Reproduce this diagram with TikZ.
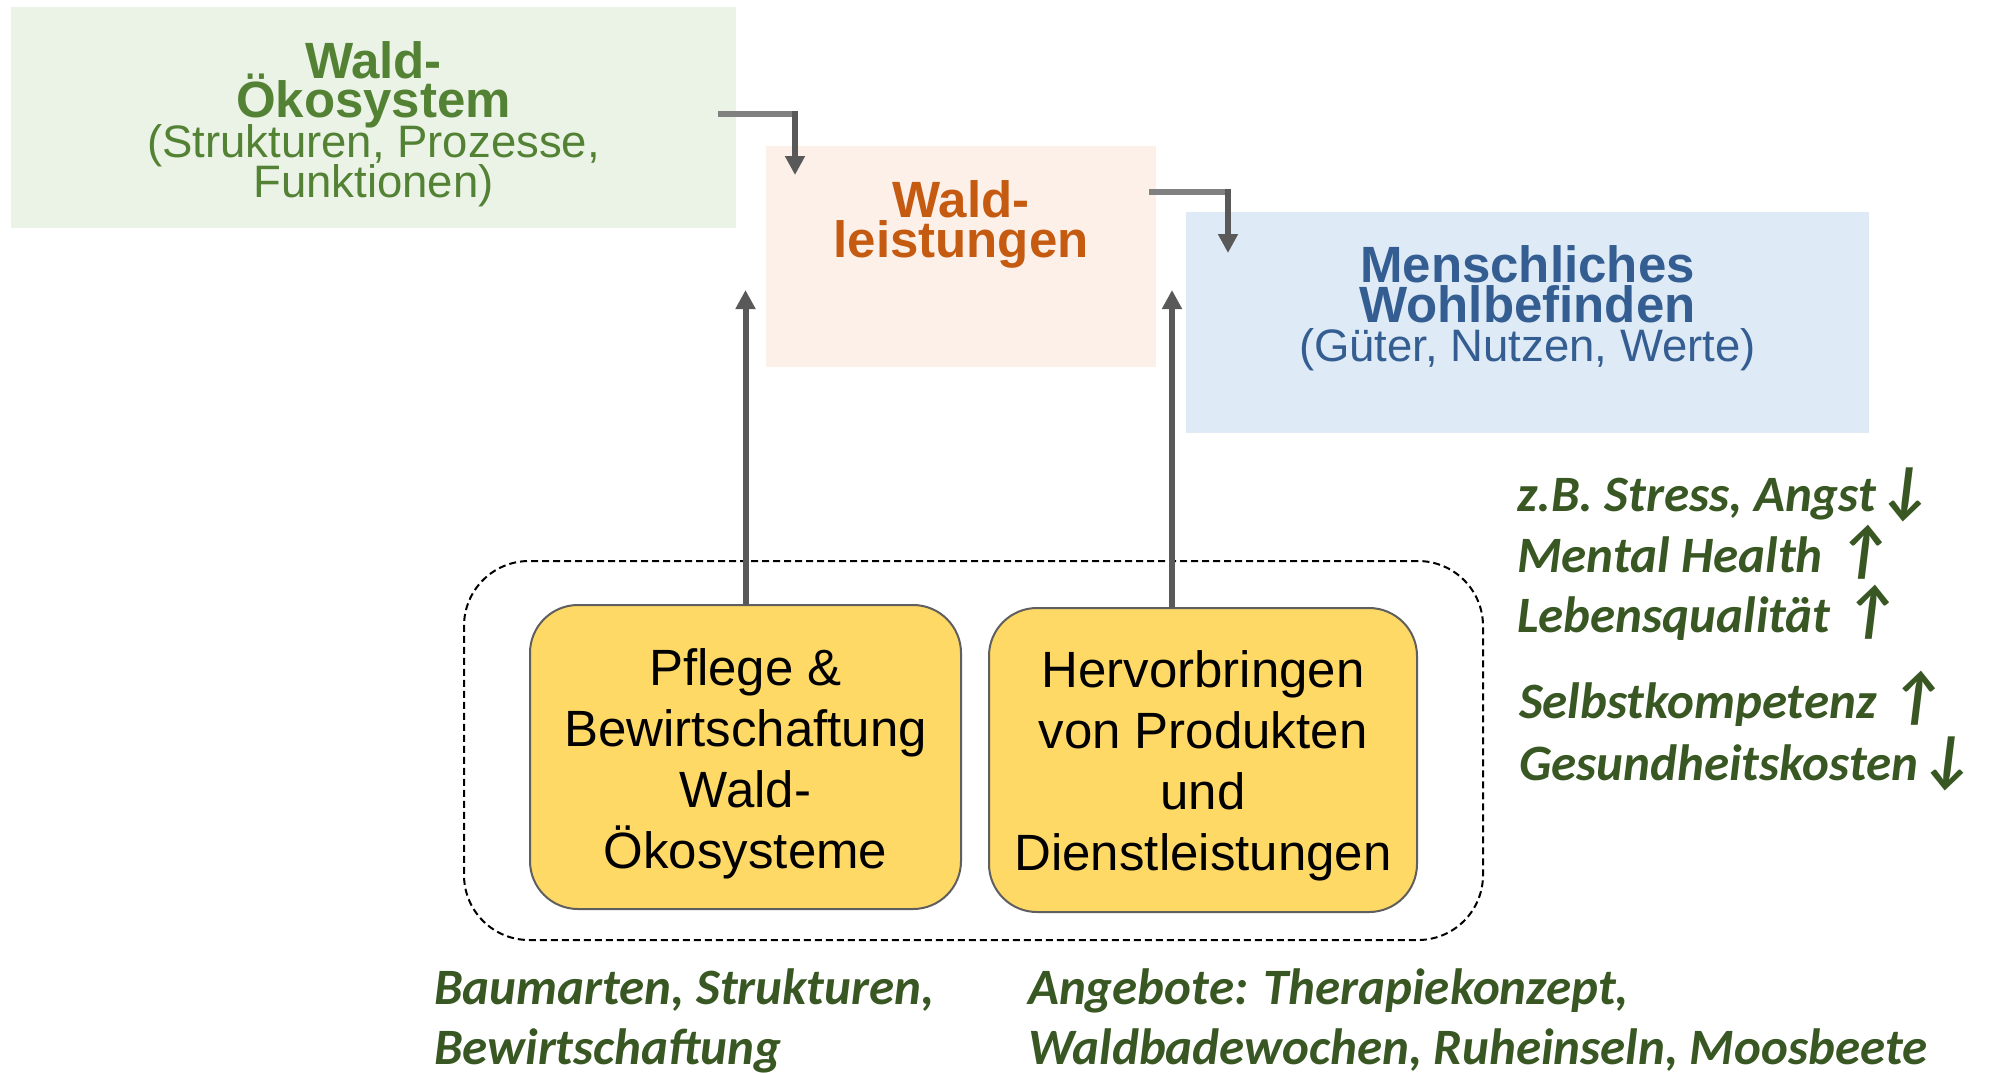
\documentclass[tikz,border=0pt]{standalone}
\usepackage{fontspec}
\setmainfont{Liberation Sans}
\newfontfamily\notefont{Carlito}
\newfontfamily\arrfont{DejaVu Sans}[FakeSlant=0.2]
\usetikzlibrary{arrows.meta}
\definecolor{gbox}{HTML}{EBF3E6}
\definecolor{gtext}{HTML}{548235}
\definecolor{obox}{HTML}{FCF0E8}
\definecolor{otext}{HTML}{C55A11}
\definecolor{bbox}{HTML}{DEEAF6}
\definecolor{btext}{HTML}{345E92}
\definecolor{ybox}{HTML}{FFD966}
\definecolor{yline}{HTML}{5F5F5F}
\definecolor{ntext}{HTML}{385723}
\definecolor{cdark}{HTML}{595959}
\definecolor{clight}{HTML}{808080}
\newcommand{\dn}{{\fontsize{64}{64}\selectfont ↓}}
\newcommand{\up}{{\fontsize{64}{64}\selectfont ↑}}
\begin{document}
\begin{tikzpicture}[x=1pt,y=-1pt,
  flat/.style={draw=none, rectangle, inner sep=0pt, outer sep=0pt},
  ybx/.style={draw=yline, line width=2pt, fill=ybox, rounded corners=48pt, inner sep=0pt, outer sep=0pt, minimum height=304pt},
  ttl/.style={font=\fontsize{51}{51}\selectfont\bfseries, anchor=base, inner sep=0pt},
  sub/.style={font=\fontsize{45.5}{45.5}\selectfont, anchor=base, inner sep=0pt},
  ytx/.style={font=\fontsize{51}{51}\selectfont, anchor=base, inner sep=0pt, text=black},
  note/.style={font=\notefont\fontsize{51}{51}\selectfont\bfseries\itshape, anchor=base west, inner sep=0pt, text=ntext},
  conn/.style={draw=cdark, line width=6pt},
  connl/.style={draw=clight, line width=6pt},
  tip/.style={-{Triangle[width=19pt,length=19pt]}}
]
\useasboundingbox (0,0) rectangle (1995,1072);
\fill[white] (0,0) rectangle (1995,1072);

% top boxes
\node[flat, fill=gbox, minimum width=725pt, minimum height=221pt] (eco) at (373.5,117.5) {};
\node[flat, fill=obox, minimum width=390pt, minimum height=221pt] (wl) at (961,256.5) {};
\node[flat, fill=bbox, minimum width=683pt, minimum height=221pt] (mw) at (1527.5,322.5) {};

\node[ttl, text=gtext] (eco1) at (373.5,78) {Wald-};
\node[ttl, text=gtext] (eco2) at (373.5,117) {Ökosystem};
\node[sub, text=gtext] (eco3) at (373.5,157) {(Strukturen, Prozesse,};
\node[sub, text=gtext] (eco4) at (373.5,197) {Funktionen)};

\node[ttl, text=otext] (wl1) at (961,217) {Wald-};
\node[ttl, text=otext] (wl2) at (961,257) {leistungen};

\node[ttl, text=btext] (mw1) at (1527.5,282) {Menschliches};
\node[ttl, text=btext] (mw2) at (1527.5,322) {Wohlbefinden};
\node[sub, text=btext] (mw3) at (1527.5,361) {(Güter, Nutzen, Werte)};

% dashed group
\node[draw=black, line width=2pt, dash pattern=on 7pt off 4pt, rounded corners=65pt,
      minimum width=1019pt, minimum height=379pt, inner sep=0pt] (grp) at (973.5,750.5) {};

% yellow boxes
\node[ybx, minimum width=431pt] (pb1) at (745.5,757) {};
\node[ybx, minimum width=428pt] (pb2) at (1203,760) {};

\node[ytx] (p1) at (745.5,685) {Pflege \&};
\node[ytx] (p2) at (745.5,746) {Bewirtschaftung};
\node[ytx] (p3) at (745.5,807) {Wald-};
\node[ytx] (p4) at (745.5,868) {Ökosysteme};

\node[ytx] (q1) at (1203,687) {Hervorbringen};
\node[ytx] (q2) at (1203,748) {von Produkten};
\node[ytx] (q3) at (1203,809) {und};
\node[ytx] (q4) at (1203,870) {Dienstleistungen};

% connectors
\coordinate (e1s) at (718,114);
\coordinate (e1c) at (798,114);
\coordinate (e1t) at (795,111);
\coordinate (e1e) at (795,175);
\draw[connl] (e1s) -- (e1c);
\draw[conn, tip] (e1t) -- (e1e);

\coordinate (e2s) at (1149,192);
\coordinate (e2c) at (1231,192);
\coordinate (e2t) at (1228,189);
\coordinate (e2e) at (1228,253);
\draw[connl] (e2s) -- (e2c);
\draw[conn, tip] (e2t) -- (e2e);

\coordinate (u1) at (745.5,290);
\coordinate (u2) at (1172,290);
\draw[conn, tip] (pb1.north) -- (u1);
\draw[conn, tip] ([xshift=-31pt]pb2.north) -- (u2);

% right notes
\node[note] (n1) at (1517,511) {z.B. Stress, Angst\dn};
\node[note] (n2) at (1517,572) {Mental Health \up};
\node[note] (n3) at (1517,632) {Lebensqualität \up};
\node[note] (n4) at (1519,718) {Selbstkompetenz \up};
\node[note] (n5) at (1519,780) {Gesundheitskosten\dn};

% bottom notes
\node[note] (b1) at (434,1004) {Baumarten, Strukturen,};
\node[note] (b2) at (434,1064) {Bewirtschaftung};
\node[note] (b3) at (1028,1004) {Angebote: Therapiekonzept,};
\node[note] (b4) at (1028,1064) {Waldbadewochen, Ruheinseln, Moosbeete};
\end{tikzpicture}
\end{document}
